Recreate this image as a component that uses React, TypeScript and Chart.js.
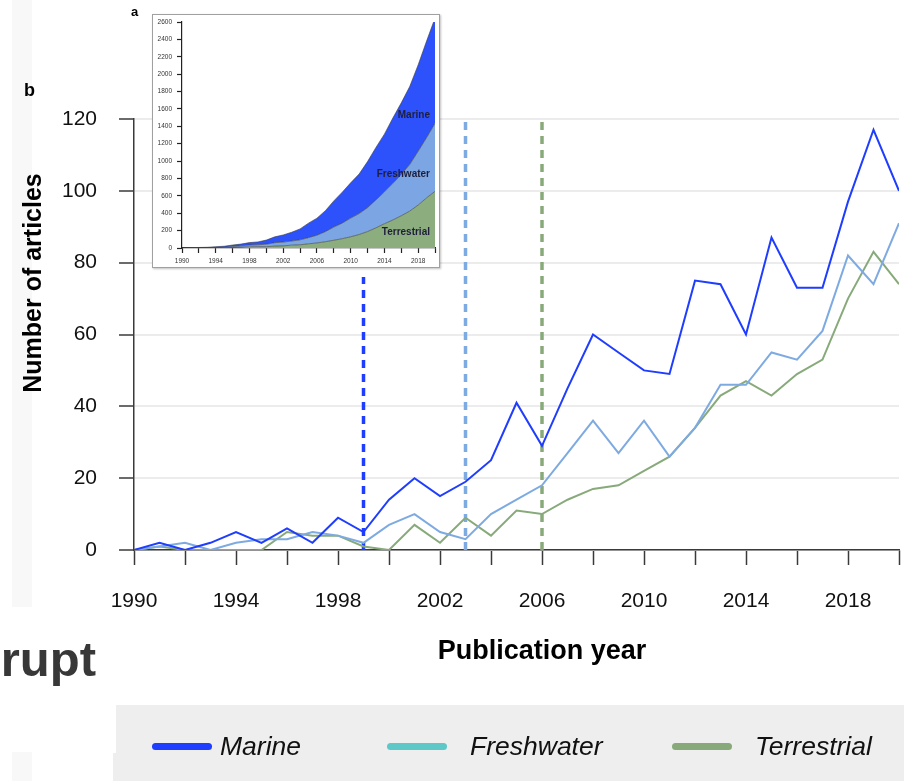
import React, { useEffect, useRef } from "react";
import { Chart, registerables } from "chart.js";

Chart.register(...registerables);

const FONT = '"Liberation Sans", Arial, Helvetica, sans-serif';

// ---- data ----
const years = [
  1990, 1991, 1992, 1993, 1994, 1995, 1996, 1997, 1998, 1999, 2000, 2001, 2002, 2003, 2004, 2005,
  2006, 2007, 2008, 2009, 2010, 2011, 2012, 2013, 2014, 2015, 2016, 2017, 2018, 2019, 2020,
];
const marine = [0, 2, 0, 2, 5, 2, 6, 2, 9, 5, 14, 20, 15, 19, 25, 41, 29, 45, 60, 55, 50, 49, 75, 74, 60, 87, 73, 73, 97, 117, 100];
const freshwater = [0, 1, 2, 0, 2, 3, 3, 5, 4, 2, 7, 10, 5, 3, 10, 14, 18, 27, 36, 27, 36, 26, 34, 46, 46, 55, 53, 61, 82, 74, 91];
const terrestrial = [0, 1, 0, 0, 0, 0, 5, 4, 4, 1, 0, 7, 2, 9, 4, 11, 10, 14, 17, 18, 22, 26, 34, 43, 47, 43, 49, 53, 70, 83, 74];

const seriesNames = ["Marine", "Freshwater", "Terrestrial"];
const breakYears = [1999, 2003, 2006];
const breakTops = [76, 120, 120];

const yTickValues = [0, 20, 40, 60, 80, 100, 120];
const xTickYears = [1990, 1992, 1994, 1996, 1998, 2000, 2002, 2004, 2006, 2008, 2010, 2012, 2014, 2016, 2018, 2020];
const xLabelYears = [1990, 1994, 1998, 2002, 2006, 2010, 2014, 2018];
const insetYTicks = [0, 200, 400, 600, 800, 1000, 1200, 1400, 1600, 1800, 2000, 2200, 2400, 2600];

// ---- styles ----
const C_MARINE = "#1f3dff";
const C_FRESH = "#7eaae2";
const C_TERR = "#88aa7b";
const C_FRESH_LEGEND = "#5ec8c8";
const F_MARINE = "#2d52fb";
const F_FRESH = "#7ba5e3";
const F_TERR = "#8cae7f";

const pts = (arr: number[]) => years.map((yr, i) => ({ x: yr, y: arr[i] }));
const cumulative = (arr: number[]) => {
  let s = 0;
  return arr.map((v) => (s += v));
};

function MainChart() {
  const ref = useRef<HTMLCanvasElement>(null);
  useEffect(() => {
    const colors = [C_MARINE, C_FRESH, C_TERR];
    const series = [marine, freshwater, terrestrial];
    const datasets: any[] = series.map((s, i) => ({
      label: seriesNames[i],
      data: pts(s),
      borderColor: colors[i],
      borderWidth: 2,
      pointRadius: 0,
      tension: 0,
      fill: false,
      order: i,
    }));
    breakYears.forEach((yr, i) => {
      datasets.push({
        label: seriesNames[i] + " break",
        data: [
          { x: yr, y: 0 },
          { x: yr, y: breakTops[i] },
        ],
        borderColor: colors[i],
        borderWidth: 3.5,
        borderDash: [8, 6],
        pointRadius: 0,
        fill: false,
        order: 5 + i,
      });
    });
    const chart = new Chart(ref.current!, {
      type: "line",
      data: { datasets },
      options: {
        responsive: false,
        animation: false,
        devicePixelRatio: 1,
        layout: { padding: { left: 0, top: 119, right: 5, bottom: 171 } },
        plugins: { legend: { display: false }, tooltip: { enabled: false } },
        scales: {
          x: {
            type: "linear",
            min: 1990,
            max: 2020,
            afterFit: (s: any) => {
              s.height = 60;
              s.paddingLeft = 0;
              s.paddingRight = 0;
            },
            afterBuildTicks: (s: any) => {
              s.ticks = xTickYears.map((v) => ({ value: v }));
            },
            ticks: {
              autoSkip: false,
              maxRotation: 0,
              padding: 24,
              color: "#111",
              font: { family: FONT, size: 21 },
              callback: (v: any) => (xLabelYears.includes(Number(v)) ? String(v) : ""),
            },
            grid: {
              drawOnChartArea: false,
              drawTicks: true,
              tickLength: 15,
              tickColor: "#3a3a3a",
              tickWidth: 1.5,
            },
            border: { color: "#3a3a3a", width: 1.5 },
          },
          y: {
            min: 0,
            max: 120,
            afterFit: (s: any) => {
              s.width = 134;
              s.paddingTop = 0;
              s.paddingBottom = 0;
            },
            afterBuildTicks: (s: any) => {
              s.ticks = yTickValues.map((v) => ({ value: v }));
            },
            ticks: {
              padding: 22,
              color: "#111",
              font: { family: FONT, size: 21 },
            },
            grid: {
              color: "#ececec",
              lineWidth: 2,
              tickLength: 15,
              tickColor: "#3a3a3a",
              tickWidth: 1.5,
            },
            border: { color: "#3a3a3a", width: 1.5 },
          },
        },
      },
    });
    return () => chart.destroy();
  }, []);
  return <canvas ref={ref} width={904} height={781} style={{ position: "absolute", left: 0, top: 0 }} />;
}

function InsetChart() {
  const ref = useRef<HTMLCanvasElement>(null);
  useEffect(() => {
    const cm = cumulative(marine);
    const cf = cumulative(freshwater);
    const ct = cumulative(terrestrial);
    const chart = new Chart(ref.current!, {
      type: "line",
      data: {
        datasets: [
          { label: "Terrestrial", data: pts(ct), fill: "origin", backgroundColor: F_TERR, borderColor: "#3a3a3a", borderWidth: 0.6, pointRadius: 0 },
          { label: "Freshwater", data: pts(cf), fill: "-1", backgroundColor: F_FRESH, borderColor: "#3a3a3a", borderWidth: 0.6, pointRadius: 0 },
          { label: "Marine", data: pts(cm), fill: "-1", backgroundColor: F_MARINE, borderColor: "#3a3a3a", borderWidth: 0.6, pointRadius: 0 },
        ],
      },
      options: {
        responsive: false,
        animation: false,
        devicePixelRatio: 1,
        layout: { padding: { left: 0, top: 7, right: 4, bottom: 3 } },
        plugins: { legend: { display: false }, tooltip: { enabled: false } },
        scales: {
          x: {
            type: "linear",
            min: 1990,
            max: 2020,
            afterFit: (s: any) => {
              s.height = 16;
              s.paddingLeft = 0;
              s.paddingRight = 0;
            },
            afterBuildTicks: (s: any) => {
              s.ticks = xTickYears.map((v) => ({ value: v }));
            },
            ticks: {
              autoSkip: false,
              maxRotation: 0,
              padding: 4,
              color: "#333",
              font: { family: FONT, size: 6.5 },
              callback: (v: any) => (xLabelYears.includes(Number(v)) ? String(v) : ""),
            },
            grid: { drawOnChartArea: false, tickLength: 5, tickColor: "#222", tickWidth: 1.2 },
            border: { color: "#222", width: 1.2 },
          },
          y: {
            stacked: true,
            min: 0,
            max: 2600,
            afterFit: (s: any) => {
              s.width = 29;
              s.paddingTop = 0;
              s.paddingBottom = 0;
            },
            afterBuildTicks: (s: any) => {
              s.ticks = insetYTicks.map((v) => ({ value: v }));
            },
            ticks: {
              padding: 5,
              color: "#333",
              font: { family: FONT, size: 6.5 },
              callback: (v: any) => String(v),
            },
            grid: { drawOnChartArea: false, tickLength: 5, tickColor: "#222", tickWidth: 1.2 },
            border: { color: "#222", width: 1.2 },
          },
        },
      },
    });
    return () => chart.destroy();
  }, []);
  return <canvas ref={ref} width={286} height={252} style={{ display: "block" }} />;
}

const abs = (s: React.CSSProperties): React.CSSProperties => ({ position: "absolute", whiteSpace: "nowrap", lineHeight: 1, fontFamily: FONT, ...s });

export default function App() {
  const legendItems = [
    { name: seriesNames[0], color: C_MARINE, sw: 152, tx: 220 },
    { name: seriesNames[1], color: C_FRESH_LEGEND, sw: 387, tx: 470 },
    { name: seriesNames[2], color: C_TERR, sw: 672, tx: 755 },
  ];
  const insetText = [
    { name: seriesNames[0], y: 115 },
    { name: seriesNames[1], y: 174 },
    { name: seriesNames[2], y: 232 },
  ];
  return (
    <div style={{ position: "absolute", left: 0, top: 0, width: 904, height: 781, overflow: "hidden", background: "#fff" }}>
      <div style={abs({ left: 12, top: 0, width: 20, height: 607, background: "#f8f8f8" })} />
      <div style={abs({ left: 12, top: 752, width: 20, height: 29, background: "#f8f8f8" })} />
      <MainChart />
      {/* inset */}
      <div
        style={{
          position: "absolute",
          left: 152,
          top: 14,
          width: 286,
          height: 252,
          border: "1px solid #a0a0a0",
          background: "#fff",
          boxShadow: "1px 1px 2px rgba(0,0,0,0.25)",
        }}
      >
        <InsetChart />
      </div>
      {insetText.map((t) => (
        <div key={t.name} style={abs({ right: 904 - 430, top: t.y - 5, fontSize: 10, fontWeight: "bold", color: "#1e1e3a" })}>
          {t.name}
        </div>
      ))}
      <div style={abs({ left: 131, top: 5, fontSize: 13, fontWeight: "bold", color: "#000" })}>a</div>
      <div style={abs({ left: 24, top: 81, fontSize: 18, fontWeight: "bold", color: "#000" })}>b</div>
      <div
        style={abs({
          left: 32,
          top: 283,
          fontSize: 25,
          fontWeight: "bold",
          color: "#000",
          transform: "translate(-50%, -50%) rotate(-90deg)",
        })}
      >
        Number of articles
      </div>
      <div style={abs({ left: 542, top: 637, fontSize: 27, fontWeight: "bold", color: "#000", transform: "translateX(-50%)" })}>
        Publication year
      </div>
      <div style={abs({ right: 904 - 96, top: 635, fontSize: 49, fontWeight: "bold", color: "#383838" })}>rupt</div>
      {/* legend box */}
      <div style={abs({ left: 116, top: 705, width: 788, height: 76, background: "#eeeeee" })} />
      <div style={abs({ left: 113, top: 753, width: 4, height: 28, background: "#eeeeee" })} />
      {legendItems.map((it) => (
        <React.Fragment key={it.name}>
          <div style={abs({ left: it.sw, top: 742.5, width: 60, height: 7, borderRadius: 4, background: it.color })} />
          <div style={abs({ left: it.tx, top: 733, fontSize: 26.5, fontStyle: "italic", color: "#111" })}>{it.name}</div>
        </React.Fragment>
      ))}
    </div>
  );
}
